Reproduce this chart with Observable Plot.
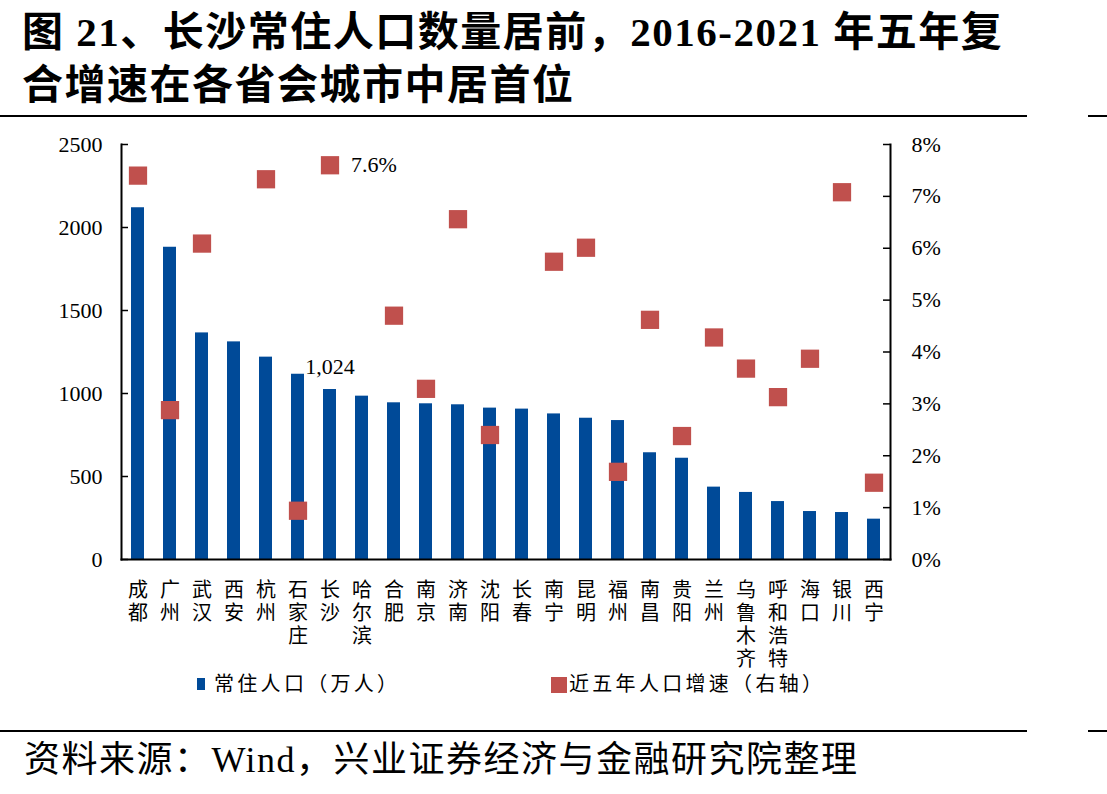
<!DOCTYPE html>
<html>
<head>
<meta charset="utf-8">
<script src="https://cdn.jsdelivr.net/npm/d3@7"></script>
<script src="https://cdn.jsdelivr.net/npm/@observablehq/plot@0.6"></script>
<style>
  html, body { margin: 0; padding: 0; background: #fff; }
  #wrap { position: relative; width: 1107px; height: 794px; overflow: hidden; background: #fff;
          font-family: 'Liberation Serif', 'Noto Sans CJK SC', serif; color: #000; }
  .abs { position: absolute; white-space: nowrap; }
  .title { left: 22px; font-size: 41px; font-weight: 700; letter-spacing: 1.5px; line-height: 53px; }
  .rule { height: 2px; background: #000; }
  .legtext { font-size: 20px; letter-spacing: 3.3px; line-height: 24px; }
  .source { left: 24px; top: 738px; font-size: 36px; letter-spacing: 1.5px; line-height: 44px; }
  #chart { position: absolute; left: 0; top: 120px; }
</style>
</head>
<body>
<div id="wrap">
  <div class="abs title" style="top:6px;">图 21、长沙常住人口数量居前，2016-2021 年五年复</div>
  <div class="abs title" style="top:59px;">合增速在各省会城市中居首位</div>
  <div class="abs rule" style="left:0; top:115px; width:1027px;"></div>
  <div class="abs rule" style="left:1088px; top:115px; width:19px;"></div>
  <div id="chart"></div>
  <div class="abs" style="left:197px; top:678px; width:8px; height:12px; background:#004A98;"></div>
  <div class="abs legtext" style="left:214px; top:672px;">常住人口（万人）</div>
  <div class="abs" style="left:551px; top:677px; width:16px; height:16px; background:#C0504D;"></div>
  <div class="abs legtext" style="left:569px; top:672px;">近五年人口增速（右轴）</div>
  <div class="abs rule" style="left:0; top:730px; width:1027px;"></div>
  <div class="abs rule" style="left:1088px; top:730px; width:19px;"></div>
  <div class="abs source">资料来源：Wind，兴业证券经济与金融研究院整理</div>
</div>
<script>
const cities = ["成都","广州","武汉","西安","杭州","石家庄","长沙","哈尔滨","合肥","南京","济南","沈阳","长春","南宁","昆明","福州","南昌","贵阳","兰州","乌鲁木齐","呼和浩特","海口","银川","西宁"];
const population = [2119,1881,1365,1311,1219,1116,1024,984,944,938,932,912,906,877,851,837,643,610,436,404,349,289,283,243];
const growth = [7.40,2.88,6.09,null,7.33,0.94,7.6,null,4.70,3.29,6.56,2.40,null,5.74,6.01,1.69,4.62,2.38,4.28,3.68,3.13,3.87,7.08,1.48];
const leftTicks = [0,500,1000,1500,2000,2500];
const rightTicks = [0,1,2,3,4,5,6,7,8];

const yMax = 2500, pctMax = 8;
const toLeft = p => p * yMax / pctMax;

const popData = cities.map((c, i) => ({city: c, pop: population[i]}));
const growthData = cities.map((c, i) => ({city: c, g: growth[i]})).filter(d => d.g != null);

const W = 1107, H = 555, mL = 121, mR = 217, mT = 24, mB = 116;
const plotW = W - mL - mR;
const font = "'Liberation Serif', 'Noto Sans CJK SC', serif";

const chart = Plot.plot({
  width: W, height: H,
  marginLeft: mL, marginRight: mR, marginTop: mT, marginBottom: mB,
  style: {fontFamily: font, color: "#000", background: "#fff"},
  x: {domain: cities, paddingInner: 0.58, paddingOuter: 0.29, axis: null, label: null},
  y: {domain: [0, yMax], axis: null, label: null},
  marks: [
    Plot.barY(popData, {x: "city", y: "pop", fill: "#004A98"}),
    Plot.dot(growthData, {x: "city", y: d => toLeft(d.g), symbol: "square", r: 10.3, fill: "#C0504D", stroke: "none"}),
    Plot.text(popData.filter(d => d.city === "长沙"), {x: "city", y: "pop", text: d => d3.format(",")(d.pop), dy: -23, fontSize: 22, fontFamily: font, fill: "#000"}),
    Plot.text(growthData.filter(d => d.city === "长沙"), {x: "city", y: d => toLeft(d.g), text: d => d.g.toFixed(1) + "%", dx: 21, textAnchor: "start", fontSize: 22, fontFamily: font, fill: "#000"}),
    Plot.axisY(leftTicks, {anchor: "left", label: null, tickSize: 0, tickPadding: 19, tickFormat: d => String(d), fontSize: 22, fontFamily: font, fill: "#000"}),
    Plot.axisY(rightTicks.map(toLeft), {anchor: "right", label: null, tickSize: 0, tickPadding: 21, tickFormat: d => Math.round(d * pctMax / yMax) + "%", fontSize: 22, fontFamily: font, fill: "#000"}),
    Plot.axisX({label: null, tickSize: 0, tickPadding: 21, tickFormat: d => d.split("").join("\n"), fontSize: 20, lineHeight: 1.15, fontFamily: font, fill: "#000"}),
    Plot.ruleY(leftTicks, {insetRight: plotW - 7, stroke: "#000", strokeWidth: 1.5}),
    Plot.ruleY(rightTicks.map(toLeft), {insetLeft: plotW - 7, stroke: "#000", strokeWidth: 1.5}),
    Plot.frame({anchor: "left", stroke: "#000", strokeWidth: 2}),
    Plot.frame({anchor: "right", stroke: "#000", strokeWidth: 2}),
    Plot.frame({anchor: "bottom", stroke: "#000", strokeWidth: 2})
  ]
});
document.getElementById("chart").appendChild(chart);
</script>
</body>
</html>
